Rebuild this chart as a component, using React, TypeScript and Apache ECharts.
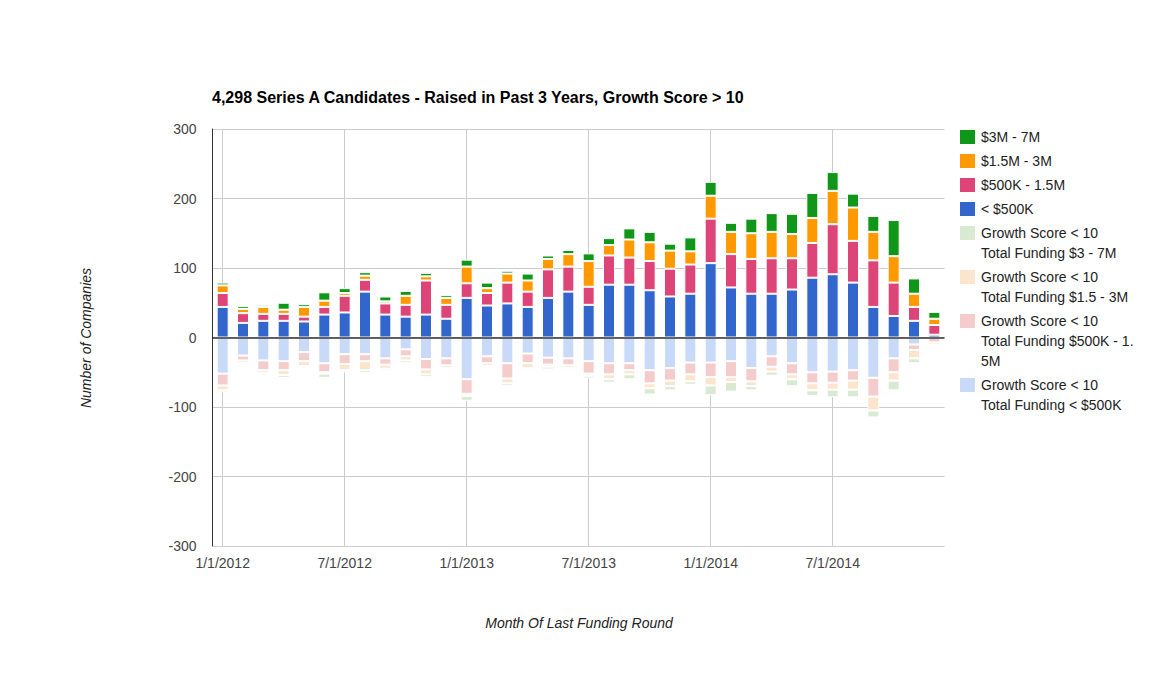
import React, { useEffect, useRef } from "react";
import * as echarts from "echarts";

const months: string[] = [];
for (const y of [2012, 2013, 2014]) {
  for (let m = 1; m <= 12; m++) months.push(`${m}/1/${y}`);
}

const pos3to7 = [4, 4, 3, 10, 4, 12, 7, 5, 7, 7, 5, 4, 10, 8, 4, 10, 5, 6, 11, 10, 16, 15, 10, 20, 20, 13, 21, 27, 29, 36, 27, 20, 23, 52, 22, 10];
const pos15to3 = [11, 6, 10, 6, 14, 9, 4, 6, 3, 13, 6, 10, 24, 7, 13, 16, 15, 18, 37, 15, 26, 27, 26, 19, 33, 32, 37, 38, 35, 36, 48, 48, 41, 38, 19, 9];
const pos500kto15 = [20, 14, 10, 10, 7, 11, 24, 17, 16, 17, 49, 20, 21, 18, 30, 22, 41, 36, 26, 42, 39, 42, 40, 42, 64, 48, 50, 51, 45, 50, 72, 60, 67, 48, 20, 14];
const posUnder500k = [44, 21, 24, 24, 23, 33, 36, 66, 33, 30, 33, 27, 57, 46, 49, 44, 57, 66, 47, 76, 76, 68, 59, 63, 107, 72, 63, 63, 69, 86, 91, 79, 44, 31, 24, 4];

const lowUnder500k = [52, 26, 33, 34, 21, 37, 24, 24, 30, 17, 31, 30, 60, 27, 37, 23, 29, 30, 34, 37, 37, 47, 44, 36, 36, 34, 44, 27, 37, 50, 49, 47, 58, 30, 10, 0];
const low500kto15 = [17, 7, 14, 13, 13, 13, 14, 10, 9, 10, 15, 10, 21, 10, 22, 14, 10, 10, 18, 16, 10, 19, 18, 17, 21, 23, 19, 15, 16, 16, 16, 15, 27, 20, 8, 7];
const low15to3 = [7, 4, 4, 7, 7, 2, 9, 13, 6, 6, 7, 4, 3, 4, 7, 7, 3, 4, 3, 7, 6, 7, 8, 10, 12, 7, 7, 7, 7, 10, 10, 13, 20, 12, 12, 3];
const low3to7 = [3, 1, 0, 4, 3, 6, 3, 4, 3, 4, 4, 2, 7, 3, 4, 3, 4, 3, 4, 5, 7, 9, 6, 5, 14, 14, 6, 6, 10, 8, 11, 11, 10, 14, 7, 0];

const yTicks = { min: -300, max: 300, interval: 100 };
const gridMonths = ["1/1/2012", "7/1/2012", "1/1/2013", "7/1/2013", "1/1/2014", "7/1/2014"];

const legendItems = [
  { name: "$3M - 7M", color: "#109618" },
  { name: "$1.5M - 3M", color: "#ff9900" },
  { name: "$500K - 1.5M", color: "#dd4477" },
  { name: "< $500K", color: "#3366cc" },
  { name: "Growth Score < 10\nTotal Funding $3 - 7M", color: "#d9ead3" },
  { name: "Growth Score < 10\nTotal Funding $1.5 - 3M", color: "#fce5cd" },
  { name: "Growth Score < 10\nTotal Funding $500K - 1.\n5M", color: "#f4cccc" },
  { name: "Growth Score < 10\nTotal Funding < $500K", color: "#c9daf8" },
];
const legendY = [137, 161, 185, 209, 233, 277, 321, 385];

const FONT = "Arial, 'Liberation Sans', sans-serif";

export default function App() {
  const ref = useRef<HTMLDivElement>(null);
  useEffect(() => {
    const chart = echarts.init(ref.current!, null, { renderer: "svg" });
    const bar = (name: string, data: number[], color: string) => ({
      name,
      type: "bar",
      stack: "all",
      stackStrategy: "samesign",
      data,
      barWidth: 12,
      z: 3,
      itemStyle: { color, borderColor: "#ffffff", borderWidth: 1 },
    });
    const option: any = {
      animation: false,
      title: {
        text: "4,298 Series A Candidates - Raised in Past 3 Years, Growth Score > 10",
        left: 207,
        top: 84,
        textStyle: { fontFamily: FONT, fontSize: 16, fontWeight: "bold", color: "#000" },
      },
      grid: { left: 212.5, top: 129, width: 732, height: 417 },
      xAxis: {
        type: "category",
        data: months,
        boundaryGap: true,
        axisLine: { show: false },
        axisTick: { show: false },
        splitLine: { show: false },
        axisLabel: { interval: 5, margin: 10, color: "#444", fontFamily: FONT, fontSize: 14 },
      },
      yAxis: {
        type: "value",
        min: yTicks.min,
        max: yTicks.max,
        interval: yTicks.interval,
        axisLine: { show: true, lineStyle: { color: "#333", width: 1 } },
        axisTick: { show: false },
        splitLine: { lineStyle: { color: "#cccccc", width: 1 } },
        axisLabel: { margin: 16, color: "#444", fontFamily: FONT, fontSize: 14 },
      },
      series: [
        {
          name: "vgrid",
          type: "line",
          data: [],
          z: 1,
          silent: true,
          markLine: {
            silent: true,
            symbol: "none",
            z: 1,
            label: { show: false },
            lineStyle: { color: "#cccccc", width: 1, type: "solid" },
            data: gridMonths.map((m) => ({ xAxis: m })),
          },
        },
        bar("< $500K", posUnder500k, "#3366cc"),
        bar("$500K - 1.5M", pos500kto15, "#dd4477"),
        bar("$1.5M - 3M", pos15to3, "#ff9900"),
        bar("$3M - 7M", pos3to7, "#109618"),
        bar("Growth Score < 10 Total Funding < $500K", lowUnder500k.map((v) => -v), "#c9daf8"),
        bar("Growth Score < 10 Total Funding $500K - 1.5M", low500kto15.map((v) => -v), "#f4cccc"),
        bar("Growth Score < 10 Total Funding $1.5 - 3M", low15to3.map((v) => -v), "#fce5cd"),
        bar("Growth Score < 10 Total Funding $3 - 7M", low3to7.map((v) => -v), "#d9ead3"),
        {
          name: "zero",
          type: "line",
          data: [],
          z: 10,
          silent: true,
          markLine: {
            silent: true,
            symbol: "none",
            z: 10,
            label: { show: false },
            lineStyle: { color: "#333333", width: 1.5, type: "solid" },
            data: [{ yAxis: 0 }],
          },
        },
      ],
      graphic: [
        ...legendItems.flatMap((it, i) => [
          {
            type: "rect",
            shape: { x: 960, y: legendY[i] - 7, width: 15, height: 14 },
            style: { fill: it.color },
          },
          {
            type: "text",
            x: 981,
            y: legendY[i] - 10,
            style: {
              text: it.name,
              fill: "#222",
              font: `14px ${FONT}`,
              lineHeight: 20,
              verticalAlign: "top",
              align: "left",
            },
          },
        ]),
        {
          type: "text",
          x: 86,
          y: 338,
          rotation: Math.PI / 2,
          style: {
            text: "Number of Companies",
            fill: "#222",
            font: `italic 14px ${FONT}`,
            align: "center",
            verticalAlign: "middle",
          },
        },
        {
          type: "text",
          x: 579,
          y: 623,
          style: {
            text: "Month Of Last Funding Round",
            fill: "#222",
            font: `italic 14px ${FONT}`,
            align: "center",
            verticalAlign: "middle",
          },
        },
      ],
    };
    chart.setOption(option);
    return () => chart.dispose();
  }, []);
  return (
    <div
      ref={ref}
      style={{ position: "fixed", left: 0, top: 0, width: 1157, height: 675, background: "#fff" }}
    />
  );
}
